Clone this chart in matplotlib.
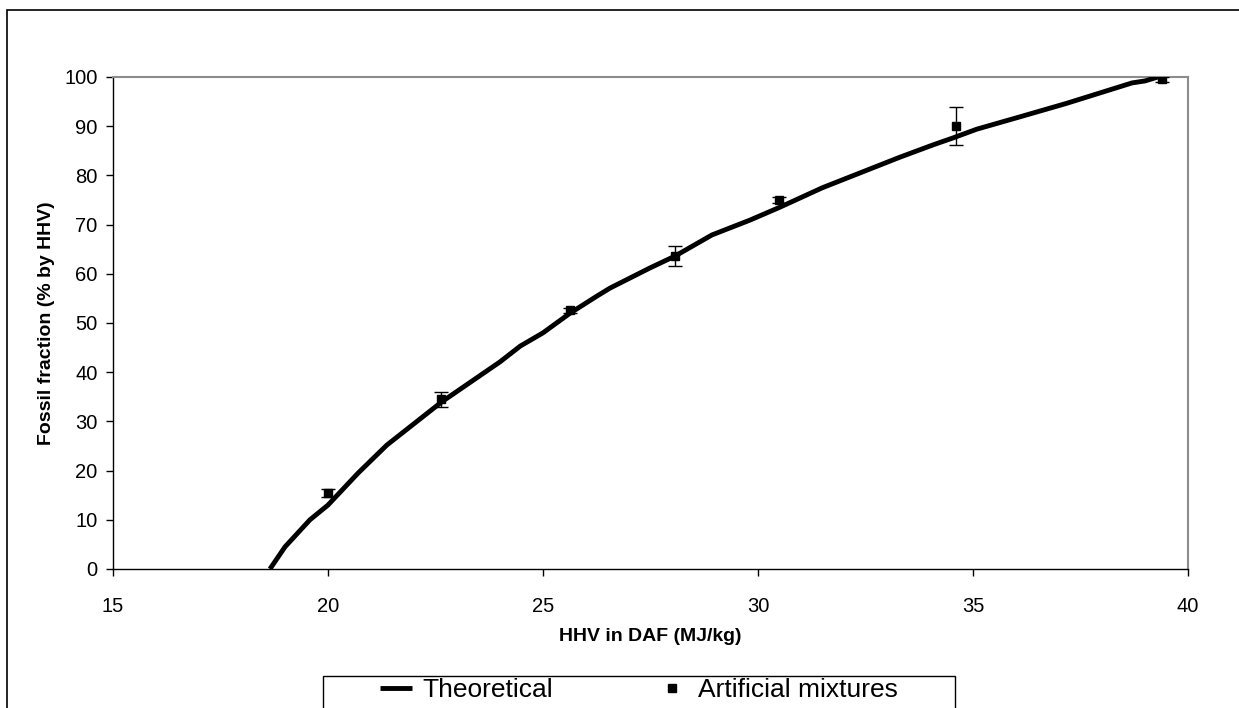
import matplotlib

matplotlib.use("Agg")

import matplotlib.pyplot as plt
from matplotlib.patches import Rectangle

# Theoretical curve
theory_hhv = [18.65, 19.0, 19.58, 20.0, 20.7, 21.37, 22.65, 24.0, 24.47, 25.0,
              25.63, 26.26, 26.56, 27.49, 28.07, 28.93, 29.81, 30.5, 31.5,
              33.3, 34.07, 34.53, 35.09, 36.09, 37.16, 38.7, 39.0, 39.3]
theory_frac = [0.0, 4.5, 10.0, 13.0, 19.5, 25.2, 34.0, 42.1, 45.3, 48.0,
               52.0, 55.5, 57.1, 61.2, 63.6, 67.9, 70.9, 73.5, 77.5,
               83.7, 86.2, 87.6, 89.4, 91.9, 94.6, 98.8, 99.2, 100.0]

# Artificial mixtures with error bars
mix_hhv = [20.0, 22.63, 25.63, 28.07, 30.5, 34.6, 39.4]
mix_frac = [15.5, 34.5, 52.6, 63.6, 75.0, 90.0, 99.5]
mix_err = [0.8, 1.5, 0.5, 2.1, 0.6, 3.9, 0.5]

plt.rcParams["font.family"] = ["Liberation Sans", "DejaVu Sans"]

W, H = 1239, 708
fig = plt.figure(figsize=(W / 100, H / 100), dpi=100)
ax = fig.add_axes([113 / W, 1 - 569 / H, 1075 / W, 492 / H])

# outer chart border
fig.patches.append(Rectangle((7 / W, -0.05), 1.2, 1 - 10 / H + 0.05,
                             transform=fig.transFigure, fill=False,
                             edgecolor="black", linewidth=1.2))
# legend box (runs off the bottom edge like the original)
fig.patches.append(Rectangle((323 / W, -0.05), 632 / W, 1 - 676 / H + 0.05,
                             transform=fig.transFigure, fill=False,
                             edgecolor="black", linewidth=1))

ax.plot(theory_hhv, theory_frac, color="black", linewidth=3.5,
        solid_capstyle="butt", label="Theoretical", zorder=3)
ax.errorbar(mix_hhv, mix_frac, yerr=mix_err, fmt="none", ecolor="black",
            elinewidth=1, capsize=5, capthick=1, zorder=4)
ax.plot(mix_hhv, mix_frac, "s", color="black", markersize=6,
        label="Artificial mixtures", zorder=5)

ax.set_xlim(15, 40)
ax.set_ylim(0, 100)
ax.set_xticks([15, 20, 25, 30, 35, 40])
ax.set_yticks(range(0, 101, 10))
ax.tick_params(axis="both", direction="out", length=5, width=1,
               labelsize=14.5, colors="black")
ax.tick_params(axis="x", pad=15)
ax.tick_params(axis="y", pad=6)

for side in ("top", "right"):
    ax.spines[side].set_color("#8c8c8c")
    ax.spines[side].set_linewidth(1.5)
for side in ("left", "bottom"):
    ax.spines[side].set_color("black")
    ax.spines[side].set_linewidth(1)

ax.set_xlabel("HHV in DAF (MJ/kg)", fontsize=14, fontweight="bold", labelpad=9)
ax.set_ylabel("Fossil fraction (% by HHV)", fontsize=14, fontweight="bold",
              labelpad=7)

handles, labels = ax.get_legend_handles_labels()
leg = fig.legend(handles, labels, loc="center left",
                 bbox_to_anchor=(380 / W, 1 - 690 / H), ncol=2,
                 fontsize=19, frameon=False,
                 handlelength=1.2, handletextpad=0.4, columnspacing=3.9,
                 borderpad=0, borderaxespad=0)

fig.savefig("out.png", dpi=100)
